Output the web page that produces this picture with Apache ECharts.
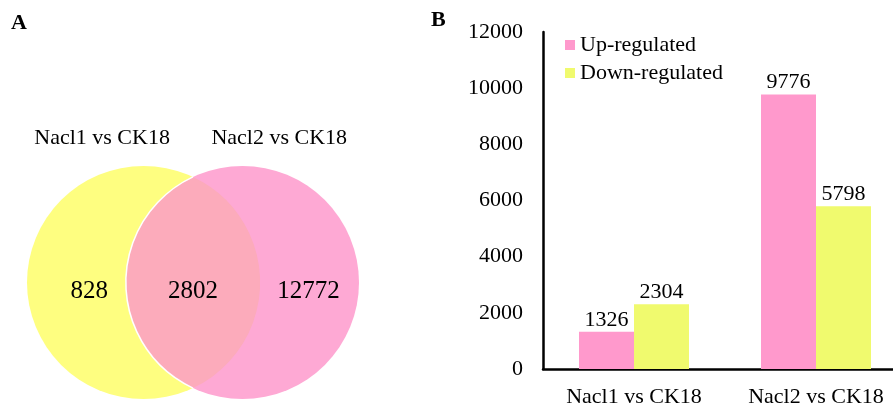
<!DOCTYPE html>
<html>
<head>
<meta charset="utf-8">
<script src="https://cdn.jsdelivr.net/npm/echarts@6/dist/echarts.min.js"></script>
<style>
  html, body { margin: 0; padding: 0; background: #fff; overflow: hidden; }
  /* the plot area runs a little past the right edge of the page */
  #chart { width: 907px; height: 408px; }
</style>
</head>
<body>
<div id="chart"></div>
<script>
// Panel B: differentially expressed genes per comparison
const comparisons = ['Nacl1 vs CK18', 'Nacl2 vs CK18'];
const upRegulated = [1326, 9776];
const downRegulated = [2304, 5798];
const yTicks = [0, 2000, 4000, 6000, 8000, 10000, 12000];

// Panel A: Venn diagram of the two comparisons
const vennSets = ['Nacl1 vs CK18', 'Nacl2 vs CK18'];
const vennCounts = [828, 2802, 12772]; // only set 1, shared, only set 2

const FONT = '"Liberation Serif", "Times New Roman", serif';

// Venn geometry in circle-radius units
const HALF_DIST = 0.424;
const circles = [[-HALF_DIST, 0, 1], [HALF_DIST, 0, 1]];
const circleFill = ['#FEFE80', '#FEA9D4'];
const lensFill = '#FCABBB';
const setLabelPos = [[-0.78, 1.24], [0.74, 1.24]];
const countLabelPos = [[-0.89, -0.08], [0, -0.08], [0.99, -0.08]];

const chart = echarts.init(document.getElementById('chart'), null, { renderer: 'canvas' });

function renderCircle(params, api) {
  const c = api.coord([api.value(0), api.value(1)]);
  const r = api.size([api.value(2), 0])[0];
  return {
    type: 'circle',
    shape: { cx: c[0], cy: c[1], r: r },
    style: { fill: circleFill[params.dataIndex] }
  };
}

function renderLens(params, api) {
  const a = api.coord([circles[0][0], circles[0][1]]);
  const b = api.coord([circles[1][0], circles[1][1]]);
  const r = api.size([circles[0][2], 0])[0];
  const mx = (a[0] + b[0]) / 2;
  const half = Math.abs(b[0] - a[0]) / 2;
  const h = Math.sqrt(r * r - half * half);
  const top = [mx, a[1] - h];
  const bot = [mx, a[1] + h];
  const lens = 'M' + top[0] + ' ' + top[1] +
    ' A' + r + ' ' + r + ' 0 0 0 ' + bot[0] + ' ' + bot[1] +
    ' A' + r + ' ' + r + ' 0 0 0 ' + top[0] + ' ' + top[1] + ' Z';
  const edge = 'M' + top[0] + ' ' + top[1] +
    ' A' + r + ' ' + r + ' 0 0 0 ' + bot[0] + ' ' + bot[1];
  return {
    type: 'group',
    children: [
      { type: 'path', shape: { pathData: lens }, style: { fill: lensFill } },
      { type: 'path', shape: { pathData: edge }, style: { fill: null, stroke: '#ffffff', lineWidth: 1.5 } }
    ]
  };
}

function renderText(fontSize) {
  return function (params, api) {
    const p = api.coord([api.value(0), api.value(1)]);
    return {
      type: 'text',
      x: p[0],
      y: p[1],
      style: {
        text: String(api.value(2)),
        fill: '#000',
        font: fontSize + 'px ' + FONT,
        align: 'center',
        verticalAlign: 'middle'
      }
    };
  };
}

const barLabel = { show: true, position: 'top', distance: 1, fontFamily: FONT, fontSize: 22, color: '#000' };

const option = {
  animation: false,
  backgroundColor: '#ffffff',
  textStyle: { fontFamily: FONT, color: '#000' },
  graphic: [
    { type: 'text', left: 11, top: 12, style: { text: 'A', font: 'bold 22px ' + FONT, fill: '#000' } },
    { type: 'text', left: 431, top: 9, style: { text: 'B', font: 'bold 22px ' + FONT, fill: '#000' } }
  ],
  legend: {
    data: ['Up-regulated', 'Down-regulated'],
    orient: 'vertical',
    left: 565,
    top: 34,
    padding: 0,
    itemWidth: 10,
    itemHeight: 10,
    itemGap: 6,
    icon: 'rect',
    textStyle: { fontFamily: FONT, fontSize: 22, color: '#000' }
  },
  grid: [
    { left: 543, top: 32, bottom: 36, right: 0, containLabel: false },
    { left: 27, top: 166, width: 332, height: 233, containLabel: false }
  ],
  xAxis: [
    {
      type: 'category',
      gridIndex: 0,
      data: comparisons,
      axisLine: { lineStyle: { color: '#000', width: 2.5 } },
      axisTick: { show: false },
      axisLabel: { fontFamily: FONT, fontSize: 22, color: '#000', margin: 17, interval: 0 }
    },
    { type: 'value', gridIndex: 1, min: -1 - HALF_DIST, max: 1 + HALF_DIST, show: false }
  ],
  yAxis: [
    {
      type: 'value',
      gridIndex: 0,
      min: yTicks[0],
      max: yTicks[yTicks.length - 1],
      interval: yTicks[1] - yTicks[0],
      axisLine: { show: true, lineStyle: { color: '#000', width: 2.5 } },
      axisTick: { show: false },
      splitLine: { show: false },
      axisLabel: { fontFamily: FONT, fontSize: 22, color: '#000', margin: 20, formatter: v => String(v) }
    },
    { type: 'value', gridIndex: 1, min: -1, max: 1, show: false }
  ],
  series: [
    {
      name: 'Up-regulated',
      type: 'bar',
      xAxisIndex: 0, yAxisIndex: 0,
      data: upRegulated,
      barWidth: 55,
      barGap: '0%',
      itemStyle: { color: '#FF99CC' },
      label: barLabel
    },
    {
      name: 'Down-regulated',
      type: 'bar',
      xAxisIndex: 0, yAxisIndex: 0,
      data: downRegulated,
      barWidth: 55,
      barGap: '0%',
      itemStyle: { color: '#F0FA6E' },
      label: barLabel
    },
    {
      type: 'custom',
      xAxisIndex: 1, yAxisIndex: 1,
      renderItem: renderCircle,
      data: circles,
      silent: true
    },
    {
      type: 'custom',
      xAxisIndex: 1, yAxisIndex: 1,
      renderItem: renderLens,
      data: [[0, 0]],
      silent: true
    },
    {
      type: 'custom',
      xAxisIndex: 1, yAxisIndex: 1,
      renderItem: renderText(22),
      data: vennSets.map((s, i) => [setLabelPos[i][0], setLabelPos[i][1], s]),
      silent: true
    },
    {
      type: 'custom',
      xAxisIndex: 1, yAxisIndex: 1,
      renderItem: renderText(25),
      data: vennCounts.map((v, i) => [countLabelPos[i][0], countLabelPos[i][1], v]),
      silent: true
    }
  ]
};

chart.setOption(option);
</script>
</body>
</html>
